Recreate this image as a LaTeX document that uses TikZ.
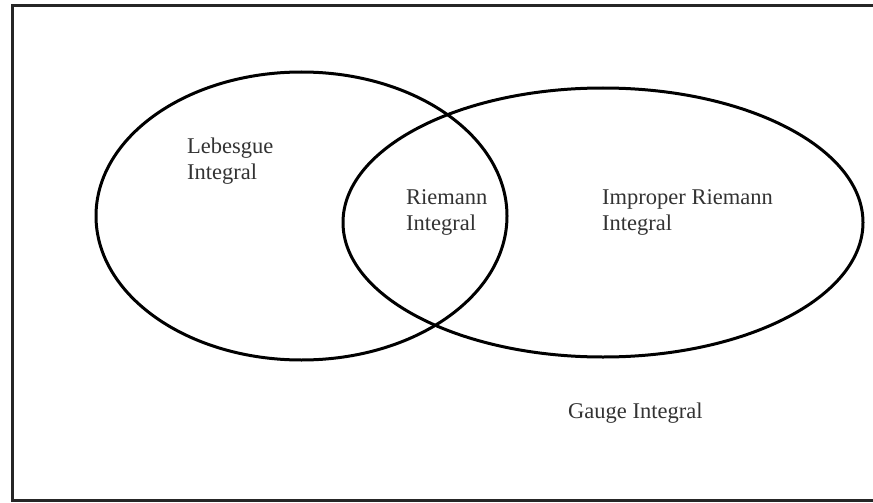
\documentclass[tikz,border=0pt]{standalone}
\usepackage{fontspec}
\setmainfont{Liberation Serif}
\begin{document}
\begin{tikzpicture}[x=1pt,y=-1pt,
  setline/.style={line width=3pt,draw=black},
  framebox/.style={line width=3pt,draw=black!85},
  lbl/.style={inner sep=0pt,anchor=base west,align=left,text=black!80,
    font=\fontsize{22.5pt}{26.5pt}\selectfont}]
\useasboundingbox (0,0) rectangle (873,503);
\fill[white] (0,0) rectangle (873,503);
\draw[framebox] (890,6) -- (12,6) -- (12,500) -- (890,500);
\draw[setline] (301.5,216) ellipse [x radius=205.5, y radius=144];
\draw[setline] (603,222.5) ellipse [x radius=260, y radius=134.5];
\node[lbl] (leb) at (187,179.5) {Lebesgue\\Integral};
\node[lbl] (rie) at (406,230.5) {Riemann\\Integral};
\node[lbl] (imp) at (602,230.5) {Improper Riemann\\Integral};
\node[lbl] (gau) at (568,418) {Gauge Integral};
\end{tikzpicture}
\end{document}
